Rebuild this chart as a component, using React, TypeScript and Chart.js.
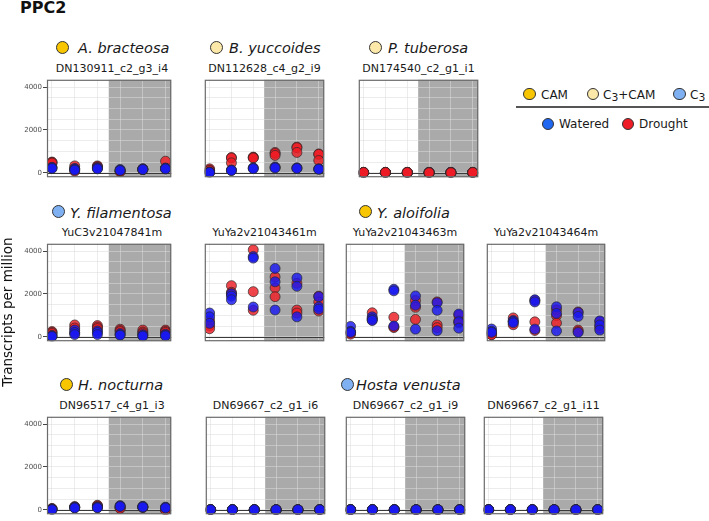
import React, { useEffect, useRef } from "react";
import { Chart, registerables } from "chart.js";

Chart.register(...registerables);

// ---------- data ----------
const timePoints = [1, 2, 3, 4, 5, 6];
const droughtShadeFrom = 3.5;
const yGridTicks = [0, 500, 1000, 1500, 2000, 2500, 3000, 3500, 4000];
const yLabelTicks = [0, 2000, 4000];

const bracteosaWatered = [[250, 230, 200], [200, 150, 120], [230, 200, 180], [150, 120, 100], [180, 160, 150], [220, 200, 180]];
const bracteosaDrought = [[500, 480, 450], [320, 180, 70], [320, 290, 250], [80, 60, 50], [180, 150, 140], [540, 200, 180]];

const yuccoidesWatered = [[30, 20, 10], [130, 110, 100], [230, 210, 190], [270, 240, 220], [230, 210, 200], [180, 170, 160]];
const yuccoidesDrought = [[180, 120, 100], [710, 690, 460], [730, 710, 690], [950, 900, 810], [1200, 1170, 950], [880, 860, 570]];

const tuberosaWatered = [[10, 5, 0], [10, 5, 0], [10, 5, 0], [20, 10, 5], [20, 10, 5], [10, 5, 0]];
const tuberosaDrought = [[20, 15, 10], [20, 15, 10], [20, 15, 10], [10, 5, 0], [10, 5, 0], [20, 15, 10]];

const filamentosaWatered = [[60, 30, 10], [310, 200, 100], [270, 200, 100], [150, 100, 70], [100, 50, 30], [120, 70, 40]];
const filamentosaDrought = [[240, 200, 150], [550, 410, 170], [520, 450, 380], [350, 290, 240], [310, 220, 170], [310, 250, 200]];

const aloifolia61Watered = [[1110, 930, 625], [2010, 1900, 1730], [3750, 3680, 1390], [3195, 2570, 1250], [2750, 2360, 930], [1875, 1390, 1290]];
const aloifolia61Drought = [[740, 510, 375], [2390, 2080, 2000], [4070, 2110, 1240], [2800, 2290, 1875], [2500, 1250, 1110], [1900, 1625, 1200]];

const aloifolia63Watered = [[480, 250, 200], [930, 830, 760], [2220, 2150, 500], [1910, 1475, 355], [1590, 1234, 284], [1060, 700, 400]];
const aloifolia63Drought = [[200, 170, 120], [1120, 850, 780], [910, 454, 430], [1690, 1376, 809], [1631, 553, 426], [1000, 740, 650]];

const aloifolia64Watered = [[360, 250, 200], [760, 710, 650], [1730, 1630, 355], [1400, 1090, 270], [1130, 950, 200], [740, 550, 310]];
const aloifolia64Drought = [[150, 100, 90], [880, 700, 560], [1700, 695, 290], [1260, 990, 640], [1160, 310, 240], [700, 500, 400]];

const nocturnaWatered = [[20, 10, 0], [120, 100, 80], [120, 100, 90], [190, 170, 150], [160, 140, 120], [120, 100, 80]];
const nocturnaDrought = [[60, 40, 30], [150, 120, 100], [210, 180, 150], [100, 80, 60], [130, 120, 100], [10, 0, -20]];

const venustaI6Watered = [[0, 0, 0], [0, 0, 0], [0, 0, 0], [0, 0, 0], [0, 0, 0], [0, 0, 0]];
const venustaI6Drought = [[0, 0, 0], [0, 0, 0], [0, 0, 0], [0, 0, 0], [0, 0, 0], [0, 0, 0]];
const venustaI9Watered = [[0, 0, 0], [0, 0, 0], [0, 0, 0], [0, 0, 0], [0, 0, 0], [0, 0, 0]];
const venustaI9Drought = [[0, 0, 0], [0, 0, 0], [0, 0, 0], [0, 0, 0], [0, 0, 0], [0, 0, 0]];
const venustaI11Watered = [[0, 0, 0], [0, 0, 0], [0, 0, 0], [0, 0, 0], [0, 0, 0], [0, 0, 0]];
const venustaI11Drought = [[0, 0, 0], [0, 0, 0], [0, 0, 0], [0, 0, 0], [0, 0, 0], [0, 0, 0]];

// ---------- styles ----------
const FONT = "'DejaVu Sans', Verdana, sans-serif";
const RED = "rgba(238,28,36,0.82)";
const BLUE = "rgba(24,24,240,0.82)";
const EDGE = "rgba(40,40,40,0.85)";
const GRID = "rgba(219,219,219,0.53)";
const SHADE = "#aaaaaa";
const CAM = "#f7c600";
const C3CAM = "#fce8a8";
const C3 = "#7fb1f2";

type PanelSpec = {
  gene: string;
  watered: number[][];
  drought: number[][];
  left: number;
  top: number;
  width: number;
  height: number;
  yAxis: boolean;
  redOnTop?: boolean;
};

const H = 109;
const panels: PanelSpec[] = [
  { gene: "DN130911_c2_g3_i4", watered: bracteosaWatered, drought: bracteosaDrought, left: 47, top: 74, width: 130, height: H, yAxis: true },
  { gene: "DN112628_c4_g2_i9", watered: yuccoidesWatered, drought: yuccoidesDrought, left: 199, top: 74, width: 131, height: H, yAxis: false },
  { gene: "DN174540_c2_g1_i1", watered: tuberosaWatered, drought: tuberosaDrought, left: 353, top: 74, width: 131, height: H, yAxis: false, redOnTop: true },
  { gene: "YuC3v21047841m", watered: filamentosaWatered, drought: filamentosaDrought, left: 47, top: 238, width: 130, height: H, yAxis: true },
  { gene: "YuYa2v21043461m", watered: aloifolia61Watered, drought: aloifolia61Drought, left: 199, top: 238, width: 131, height: H, yAxis: false },
  { gene: "YuYa2v21043463m", watered: aloifolia63Watered, drought: aloifolia63Drought, left: 340, top: 238, width: 130, height: H, yAxis: false },
  { gene: "YuYa2v21043464m", watered: aloifolia64Watered, drought: aloifolia64Drought, left: 481, top: 238, width: 130, height: H, yAxis: false },
  { gene: "DN96517_c4_g1_i3", watered: nocturnaWatered, drought: nocturnaDrought, left: 47, top: 411, width: 130, height: H, yAxis: true },
  { gene: "DN69667_c2_g1_i6", watered: venustaI6Watered, drought: venustaI6Drought, left: 200, top: 411, width: 131, height: H, yAxis: false },
  { gene: "DN69667_c2_g1_i9", watered: venustaI9Watered, drought: venustaI9Drought, left: 340, top: 411, width: 131, height: H, yAxis: false },
  { gene: "DN69667_c2_g1_i11", watered: venustaI11Watered, drought: venustaI11Drought, left: 478, top: 411, width: 131, height: H, yAxis: false },
];

type SpeciesSpec = { name: string; color: string; cx: number; cy: number; textLeft: number; baseline: number };
const species: SpeciesSpec[] = [
  { name: "A. bracteosa", color: CAM, cx: 62, cy: 47, textLeft: 78, baseline: 53.5 },
  { name: "B. yuccoides", color: C3CAM, cx: 216.5, cy: 47, textLeft: 229, baseline: 53.5 },
  { name: "P. tuberosa", color: C3CAM, cx: 375, cy: 47, textLeft: 388, baseline: 53.5 },
  { name: "Y. filamentosa", color: C3, cx: 58.5, cy: 211.5, textLeft: 70, baseline: 218 },
  { name: "Y. aloifolia", color: CAM, cx: 365, cy: 211.5, textLeft: 377, baseline: 218 },
  { name: "H. nocturna", color: CAM, cx: 66, cy: 384, textLeft: 78, baseline: 390.3 },
  { name: "Hosta venusta", color: C3, cx: 347.5, cy: 384, textLeft: 356, baseline: 390.3 },
];

const decorPlugin = {
  id: "panelDecor",
  beforeDraw(chart: any) {
    const { ctx, chartArea: a, scales } = chart;
    ctx.save();
    ctx.fillStyle = "#ffffff";
    ctx.fillRect(a.left, a.top, a.right - a.left, a.bottom - a.top);
    const gx = scales.x.getPixelForValue(droughtShadeFrom);
    ctx.fillStyle = SHADE;
    ctx.fillRect(gx, a.top, a.right - gx, a.bottom - a.top);
    ctx.restore();
  },
  beforeDatasetsDraw(chart: any) {
    const { ctx, chartArea: a, scales } = chart;
    const y0 = Math.round(scales.y.getPixelForValue(0)) + 0.5;
    ctx.save();
    ctx.strokeStyle = "#3a3a3a";
    ctx.lineWidth = 1;
    ctx.beginPath();
    ctx.moveTo(a.left, y0);
    ctx.lineTo(a.right, y0);
    ctx.stroke();
    ctx.restore();
  },
  afterDraw(chart: any) {
    const { ctx, chartArea: a } = chart;
    ctx.save();
    ctx.strokeStyle = "#6b6b6b";
    ctx.lineWidth = 1.2;
    ctx.strokeRect(a.left + 0.5, a.top + 0.5, a.right - a.left - 1, a.bottom - a.top - 1);
    ctx.restore();
  },
};

function toPoints(vals: number[][]) {
  return vals.flatMap((arr, i) => arr.map((v) => ({ x: timePoints[i], y: v })));
}

function Panel({ spec }: { spec: PanelSpec }) {
  const ref = useRef<HTMLCanvasElement>(null);
  const canvasLeft = spec.yAxis ? 0 : spec.left;
  const canvasWidth = spec.yAxis ? spec.left + spec.width : spec.width;
  const axisWidth = spec.yAxis ? spec.left : 0;

  useEffect(() => {
    if (!ref.current) return;
    const chart = new Chart(ref.current, {
      type: "scatter",
      data: {
        datasets: [
          {
            label: "Drought",
            data: toPoints(spec.drought),
            backgroundColor: RED,
            borderColor: EDGE,
            borderWidth: 0.8,
            pointRadius: 5,
            order: spec.redOnTop ? 0 : 1,
          },
          {
            label: "Watered",
            data: toPoints(spec.watered),
            backgroundColor: BLUE,
            borderColor: EDGE,
            borderWidth: 0.8,
            pointRadius: 5,
            order: spec.redOnTop ? 1 : 0,
          },
        ],
      },
      options: {
        animation: false,
        responsive: false,
        maintainAspectRatio: false,
        layout: { padding: 0 },
        plugins: { legend: { display: false }, tooltip: { enabled: false } },
        scales: {
          x: {
            type: "linear",
            min: 0.78,
            max: 6.25,
            afterBuildTicks: (s: any) => {
              s.ticks = timePoints.map((v) => ({ value: v }));
            },
            afterFit: (s: any) => {
              s.height = 0;
              s.paddingLeft = 0;
              s.paddingRight = 0;
              s.paddingTop = 0;
              s.paddingBottom = 0;
            },
            ticks: { display: false },
            grid: { color: GRID, drawTicks: false, lineWidth: 1 },
            border: { display: false },
          },
          y: {
            type: "linear",
            min: -210,
            max: 4350,
            afterBuildTicks: (s: any) => {
              s.ticks = yGridTicks.map((v) => ({ value: v }));
            },
            afterFit: (s: any) => {
              s.width = axisWidth;
              s.paddingLeft = 0;
              s.paddingRight = 0;
              s.paddingTop = 0;
              s.paddingBottom = 0;
            },
            ticks: {
              display: spec.yAxis,
              autoSkip: false,
              padding: 1,
              color: "#4d4d4d",
              font: { family: FONT, size: 7 },
              callback: (v: any) => (yLabelTicks.includes(Number(v)) ? String(v) : ""),
            },
            grid: {
              color: GRID,
              lineWidth: 1,
              drawTicks: spec.yAxis,
              tickLength: 4,
              tickColor: (ctx: any) =>
                ctx.tick && yLabelTicks.includes(ctx.tick.value) ? "#444" : "rgba(0,0,0,0)",
            },
            border: { display: false },
          },
        },
      },
      plugins: [decorPlugin],
    } as any);
    return () => chart.destroy();
  }, []);

  return (
    <canvas
      ref={ref}
      width={canvasWidth}
      height={spec.height}
      style={{ position: "absolute", left: canvasLeft, top: spec.top, width: canvasWidth, height: spec.height }}
    />
  );
}

function Dot({ cx, cy, d, color }: { cx: number; cy: number; d: number; color: string }) {
  return (
    <div
      style={{
        position: "absolute",
        left: cx - d / 2,
        top: cy - d / 2,
        width: d,
        height: d,
        borderRadius: "50%",
        background: color,
        border: "1px solid #333",
        boxSizing: "border-box",
      }}
    />
  );
}

function Text({ left, baseline, size, children, style }: any) {
  return (
    <div
      style={{
        position: "absolute",
        left,
        top: baseline - 0.846 * size,
        fontSize: size,
        lineHeight: 1,
        whiteSpace: "nowrap",
        color: "#1a1a1a",
        fontFamily: FONT,
        ...style,
      }}
    >
      {children}
    </div>
  );
}

const Sub3 = () => <span style={{ fontSize: "0.9em", position: "relative", top: 2 }}>3</span>;

export default function App() {
  return (
    <div
      style={{
        position: "absolute",
        left: 0,
        top: 0,
        width: 709,
        height: 521,
        overflow: "hidden",
        background: "#ffffff",
        fontFamily: FONT,
      }}
    >
      <Text left={20} baseline={13.5} size={16} style={{ fontWeight: "bold", color: "#111" }}>
        PPC2
      </Text>

      {species.map((s) => (
        <React.Fragment key={s.name}>
          <Dot cx={s.cx} cy={s.cy} d={13} color={s.color} />
          <Text left={s.textLeft} baseline={s.baseline} size={14.5} style={{ fontStyle: "italic" }}>
            {s.name}
          </Text>
        </React.Fragment>
      ))}

      {panels.map((p) => (
        <div
          key={"g" + p.gene}
          style={{
            position: "absolute",
            left: p.left - 20,
            width: p.width + 40,
            top: p.top - 2 - 0.846 * 11,
            fontSize: 11,
            lineHeight: 1,
            textAlign: "center",
            whiteSpace: "nowrap",
            color: "#1a1a1a",
            fontFamily: FONT,
          }}
        >
          {p.gene}
        </div>
      ))}

      {panels.map((p) => (
        <Panel key={p.gene} spec={p} />
      ))}

      {/* y axis title */}
      <div
        style={{
          position: "absolute",
          left: -73,
          top: 305,
          width: 160,
          height: 14,
          transform: "rotate(-90deg)",
          transformOrigin: "80px 7px",
          fontSize: 13.5,
          lineHeight: "14px",
          textAlign: "center",
          whiteSpace: "nowrap",
          color: "#111",
          fontFamily: FONT,
        }}
      >
        Transcripts per million
      </div>

      {/* legend */}
      <Dot cx={529.5} cy={94} d={12.7} color={CAM} />
      <Text left={541} baseline={99} size={12}>CAM</Text>
      <Dot cx={593} cy={94} d={12.7} color={C3CAM} />
      <Text left={603} baseline={99} size={12}>
        C<Sub3 />+CAM
      </Text>
      <Dot cx={679.5} cy={94} d={12.7} color={C3} />
      <Text left={690} baseline={99} size={12}>
        C<Sub3 />
      </Text>
      <div style={{ position: "absolute", left: 516, top: 106, width: 200, height: 1.5, background: "#555" }} />
      <Dot cx={548} cy={124} d={12.7} color="#1f66f0" />
      <Text left={559} baseline={128.5} size={12}>Watered</Text>
      <Dot cx={628} cy={124} d={12.7} color="#ee1c26" />
      <Text left={639} baseline={128.5} size={12}>Drought</Text>
    </div>
  );
}
